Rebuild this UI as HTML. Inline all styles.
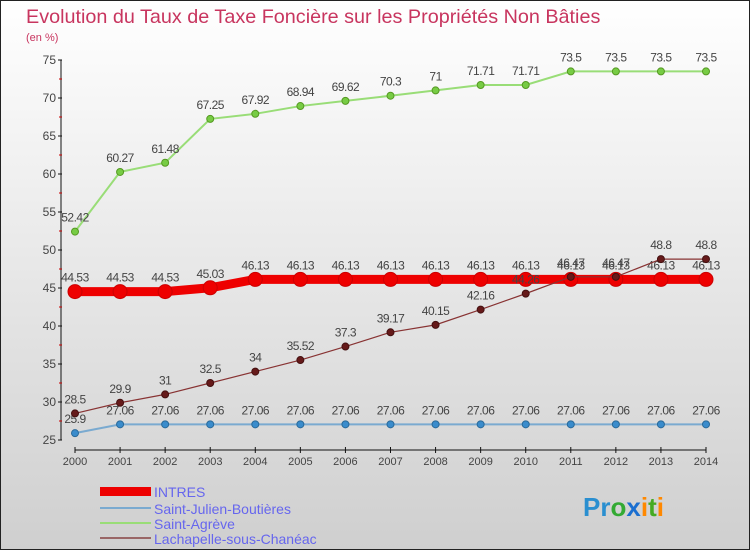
<!DOCTYPE html>
<html><head><meta charset="utf-8"><style>
body{margin:0;width:750px;height:550px;overflow:hidden;font-family:"Liberation Sans",sans-serif}
svg{display:block}
</style></head><body>
<svg id="c" width="750" height="550">
<defs><linearGradient id="bg" x1="0" y1="0" x2="0" y2="1"><stop offset="0" stop-color="#ffffff"/><stop offset="1" stop-color="#cfcfcf"/></linearGradient></defs>
<rect x="0.5" y="0.5" width="749" height="549" fill="url(#bg)" stroke="#222"/>
<text x="26" y="23" font-size="19.8" fill="#c8355f">Evolution du Taux de Taxe Foncière sur les Propriétés Non Bâties</text>
<text x="26" y="41" font-size="11" fill="#c8355f">(en %)</text>
<g id="axes"></g><g id="series"></g>
<g>
<rect x="100" y="487" width="51" height="9" fill="#e00"/>
<text x="154" y="497" font-size="14" fill="#6666ee">INTRES</text>
<line x1="100" y1="508" x2="151" y2="508" stroke="#7aaad0" stroke-width="2"/>
<text x="154" y="514" font-size="14" fill="#6666ee">Saint-Julien-Boutières</text>
<line x1="100" y1="523" x2="151" y2="523" stroke="#99dd77" stroke-width="2"/>
<text x="154" y="529" font-size="14" fill="#6666ee">Saint-Agrève</text>
<line x1="100" y1="538" x2="151" y2="538" stroke="#996666" stroke-width="2"/>
<text x="154" y="544" font-size="14" fill="#6666ee">Lachapelle-sous-Chanéac</text>
</g>
<text x="583" y="516" font-size="26" font-weight="bold"><tspan fill="#2a8fd0">Pr</tspan><tspan fill="#33aa33">o</tspan><tspan fill="#1b6fd0">x</tspan><tspan fill="#ff8800">i</tspan><tspan fill="#44aa22">t</tspan><tspan fill="#ff8800">i</tspan></text>
</svg>
<script>
const years=[2000,2001,2002,2003,2004,2005,2006,2007,2008,2009,2010,2011,2012,2013,2014];
const yTicks=[25,30,35,40,45,50,55,60,65,70,75];
const intres=[44.53,44.53,44.53,45.03,46.13,46.13,46.13,46.13,46.13,46.13,46.13,46.13,46.13,46.13,46.13];
const saintJulien=[25.9,27.06,27.06,27.06,27.06,27.06,27.06,27.06,27.06,27.06,27.06,27.06,27.06,27.06,27.06];
const saintAgreve=[52.42,60.27,61.48,67.25,67.92,68.94,69.62,70.3,71,71.71,71.71,73.5,73.5,73.5,73.5];
const lachapelle=[28.5,29.9,31,32.5,34,35.52,37.3,39.17,40.15,42.16,44.26,46.47,46.47,48.8,48.8];
const NS="http://www.w3.org/2000/svg";
const X=i=>75+i*(706-75)/(years.length-1);
const Y=v=>440-(v-25)*(380/50);
function mk(t,a,p){const e=document.createElementNS(NS,t);for(const k in a)e.setAttribute(k,a[k]);p.appendChild(e);return e;}
const ax=document.getElementById('axes');
let l=mk('line',{x1:61,y1:60,x2:61,y2:440,stroke:'#111'},ax);


l=mk('line',{x1:75,y1:450,x2:706,y2:450,stroke:'#111'},ax);


yTicks.forEach((v,i)=>{
  mk('line',{x1:58,y1:Y(v),x2:62,y2:Y(v),stroke:'#111'},ax);
  if(i<yTicks.length-1) mk('line',{x1:59,y1:Y(v+2.5),x2:62,y2:Y(v+2.5),stroke:'#c00'},ax);
  const t=mk('text',{x:56,y:Y(v)+4,'font-size':12,fill:'#444','text-anchor':'end'},ax);
  t.textContent=v;
  
  
});
years.forEach((y,i)=>{
  mk('line',{x1:X(i),y1:447,x2:X(i),y2:453,stroke:'#111'},ax);
  const t=mk('text',{x:X(i),y:465,'font-size':11,fill:'#444','text-anchor':'middle'},ax);
  t.textContent=y;
  
  
});
const sg=document.getElementById('series');
function series(vals,name,color,lw,r,dot,stroke){
  const g=mk('g',{},sg);
  
  
  const pl=mk('polyline',{points:vals.map((v,i)=>X(i)+','+Y(v)).join(' '),fill:'none',stroke:color,'stroke-width':lw},g);
  
  
  vals.forEach((v,i)=>{
    const c=mk('circle',{cx:X(i),cy:Y(v),r:r,fill:dot,stroke:stroke,'stroke-width':1},g);
    
    
    const t=mk('text',{x:X(i),y:Y(v)-10,'font-size':12,fill:'#444','text-anchor':'middle','letter-spacing':'-0.5'},g);
    t.textContent=v;
    
    
  });
}
series(saintAgreve,'saint-agreve','#99dd77',2,3.5,'#77cc44','#559922');
series(saintJulien,'saint-julien','#7aaad0',2,3.5,'#3a8ccc','#2a6a9a');
series(intres,'intres','#ee0000',9,7,'#ee0000','#cc0000');
series(lachapelle,'lachapelle','#883333',1.2,3.5,'#661a1a','#441010');
</script>
</body></html>
